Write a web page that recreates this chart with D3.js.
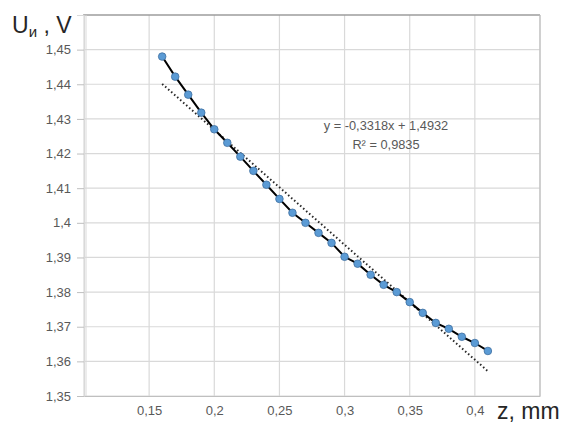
<!DOCTYPE html>
<html>
    <head>
        <meta charset="utf-8">
        <title>U vs z</title>
        <style>
            body {margin: 0; background-color: white;}
            text {font-family: "Liberation Sans", Arial, sans-serif;}
            .tick text {fill: #595959; font-size: 13px;}
        </style>
    </head>
    <body>
        <div id="chart"></div>
        <script src="https://d3js.org/d3.v7.min.js"></script>
        <script>
            // measured values
            var zValues = [0.16, 0.17, 0.18, 0.19, 0.20, 0.21, 0.22, 0.23, 0.24, 0.25, 0.26, 0.27, 0.28,
                           0.29, 0.30, 0.31, 0.32, 0.33, 0.34, 0.35, 0.36, 0.37, 0.38, 0.39, 0.40, 0.41];
            var uValues = [1.4480, 1.4422, 1.4370, 1.4318, 1.4270, 1.4231, 1.4191, 1.4150, 1.4110, 1.4069,
                           1.4029, 1.4000, 1.3971, 1.3942, 1.3902, 1.3882, 1.3850, 1.3821, 1.3800, 1.3771,
                           1.3740, 1.3711, 1.3694, 1.3671, 1.3653, 1.3630];
            var xTicks = [0.15, 0.2, 0.25, 0.3, 0.35, 0.4];
            var yTicks = [1.35, 1.36, 1.37, 1.38, 1.39, 1.4, 1.41, 1.42, 1.43, 1.44, 1.45];
            var slope = -0.3318, intercept = 1.4932;
            var eqLabel = "y = -0,3318x + 1,4932";
            var r2Label = "R² = 0,9835";

            var margin = {top: 15, right: 24, bottom: 29, left: 84},
                width = 564 - margin.left - margin.right,
                height = 425 - margin.top - margin.bottom;

            var svg = d3.select("#chart").append("svg")
                .attr("width", 564).attr("height", 425)
                .append("g")
                .attr("transform", "translate(" + margin.left + "," + margin.top + ")");

            var x = d3.scaleLinear().domain([0.1, 0.45]).range([0, width]);
            var y = d3.scaleLinear().domain([1.35, 1.46]).range([height, 0]);
            var fmt = function(d) { return String(+d.toFixed(3)).replace(".", ","); };

            // grid
            svg.append("g").selectAll("line")
                .data(d3.range(0.1, 0.451, 0.05)).join("line")
                .attr("x1", d => x(d)).attr("x2", d => x(d))
                .attr("y1", 0).attr("y2", height)
                .attr("stroke", "#d9d9d9").attr("stroke-width", 1.2);
            svg.append("g").selectAll("line")
                .data(yTicks.concat([1.46])).join("line")
                .attr("x1", 0).attr("x2", width)
                .attr("y1", d => y(d)).attr("y2", d => y(d))
                .attr("stroke", "#d9d9d9").attr("stroke-width", 1.2);

            // border lines
            svg.append("line").attr("x1", -1).attr("x2", width).attr("y1", 0).attr("y2", 0)
                .attr("stroke", "#7f7f7f").attr("stroke-width", 1.2);
            svg.append("line").attr("x1", width).attr("x2", width).attr("y1", 0).attr("y2", height)
                .attr("stroke", "#bfbfbf").attr("stroke-width", 1.2);
            svg.append("line").attr("x1", 2).attr("x2", 2).attr("y1", 0).attr("y2", height)
                .attr("stroke", "#d9d9d9").attr("stroke-width", 1);

            // axes
            var yAxis = svg.append("g")
                .call(d3.axisLeft(y).tickValues(yTicks).tickFormat(fmt).tickSize(7).tickPadding(6));
            yAxis.select(".domain").attr("stroke", "#d9d9d9");
            yAxis.selectAll(".tick line").attr("stroke", "#bfbfbf");

            var xAxis = svg.append("g")
                .attr("transform", "translate(0," + height + ")")
                .call(d3.axisBottom(x).tickValues(xTicks).tickFormat(fmt).tickSize(0).tickPadding(10));
            xAxis.select(".domain").attr("stroke", "#bfbfbf");

            // trend line
            var zMin = d3.min(zValues), zMax = d3.max(zValues);
            svg.append("line")
                .attr("x1", x(zMin)).attr("y1", y(slope * zMin + intercept))
                .attr("x2", x(zMax)).attr("y2", y(slope * zMax + intercept))
                .attr("stroke", "#262626").attr("stroke-width", 2)
                .attr("stroke-dasharray", "1.5,2.5");

            var points = zValues.map((z, i) => ({z: z, u: uValues[i]}));

            svg.append("path")
                .datum(points)
                .attr("fill", "none")
                .attr("stroke", "black")
                .attr("stroke-width", 2)
                .attr("d", d3.line().x(d => x(d.z)).y(d => y(d.u)));

            svg.append("g").selectAll("circle")
                .data(points).join("circle")
                .attr("cx", d => x(d.z)).attr("cy", d => y(d.u))
                .attr("r", 3.8)
                .attr("fill", "#5b9bd5")
                .attr("stroke", "#3f6f9f").attr("stroke-width", 0.8);

            // equation
            svg.append("text").attr("x", 302).attr("y", 115)
                .attr("text-anchor", "middle").attr("fill", "#595959").attr("font-size", 12.8)
                .text(eqLabel);
            svg.append("text").attr("x", 302).attr("y", 134)
                .attr("text-anchor", "middle").attr("fill", "#595959").attr("font-size", 12.8)
                .text(r2Label);

            // axis titles
            var root = d3.select("#chart svg");
            var yt = root.append("text").attr("x", 12).attr("y", 33)
                .attr("fill", "#262626").attr("font-size", 23);
            yt.append("tspan").text("U");
            yt.append("tspan").attr("font-size", 15).attr("dy", 4).text("и");
            yt.append("tspan").attr("dy", -4).text(" , V");

            root.append("text").attr("x", 497).attr("y", 419)
                .attr("fill", "#262626").attr("font-size", 23)
                .text("z, mm");
        </script>
    </body>
</html>
